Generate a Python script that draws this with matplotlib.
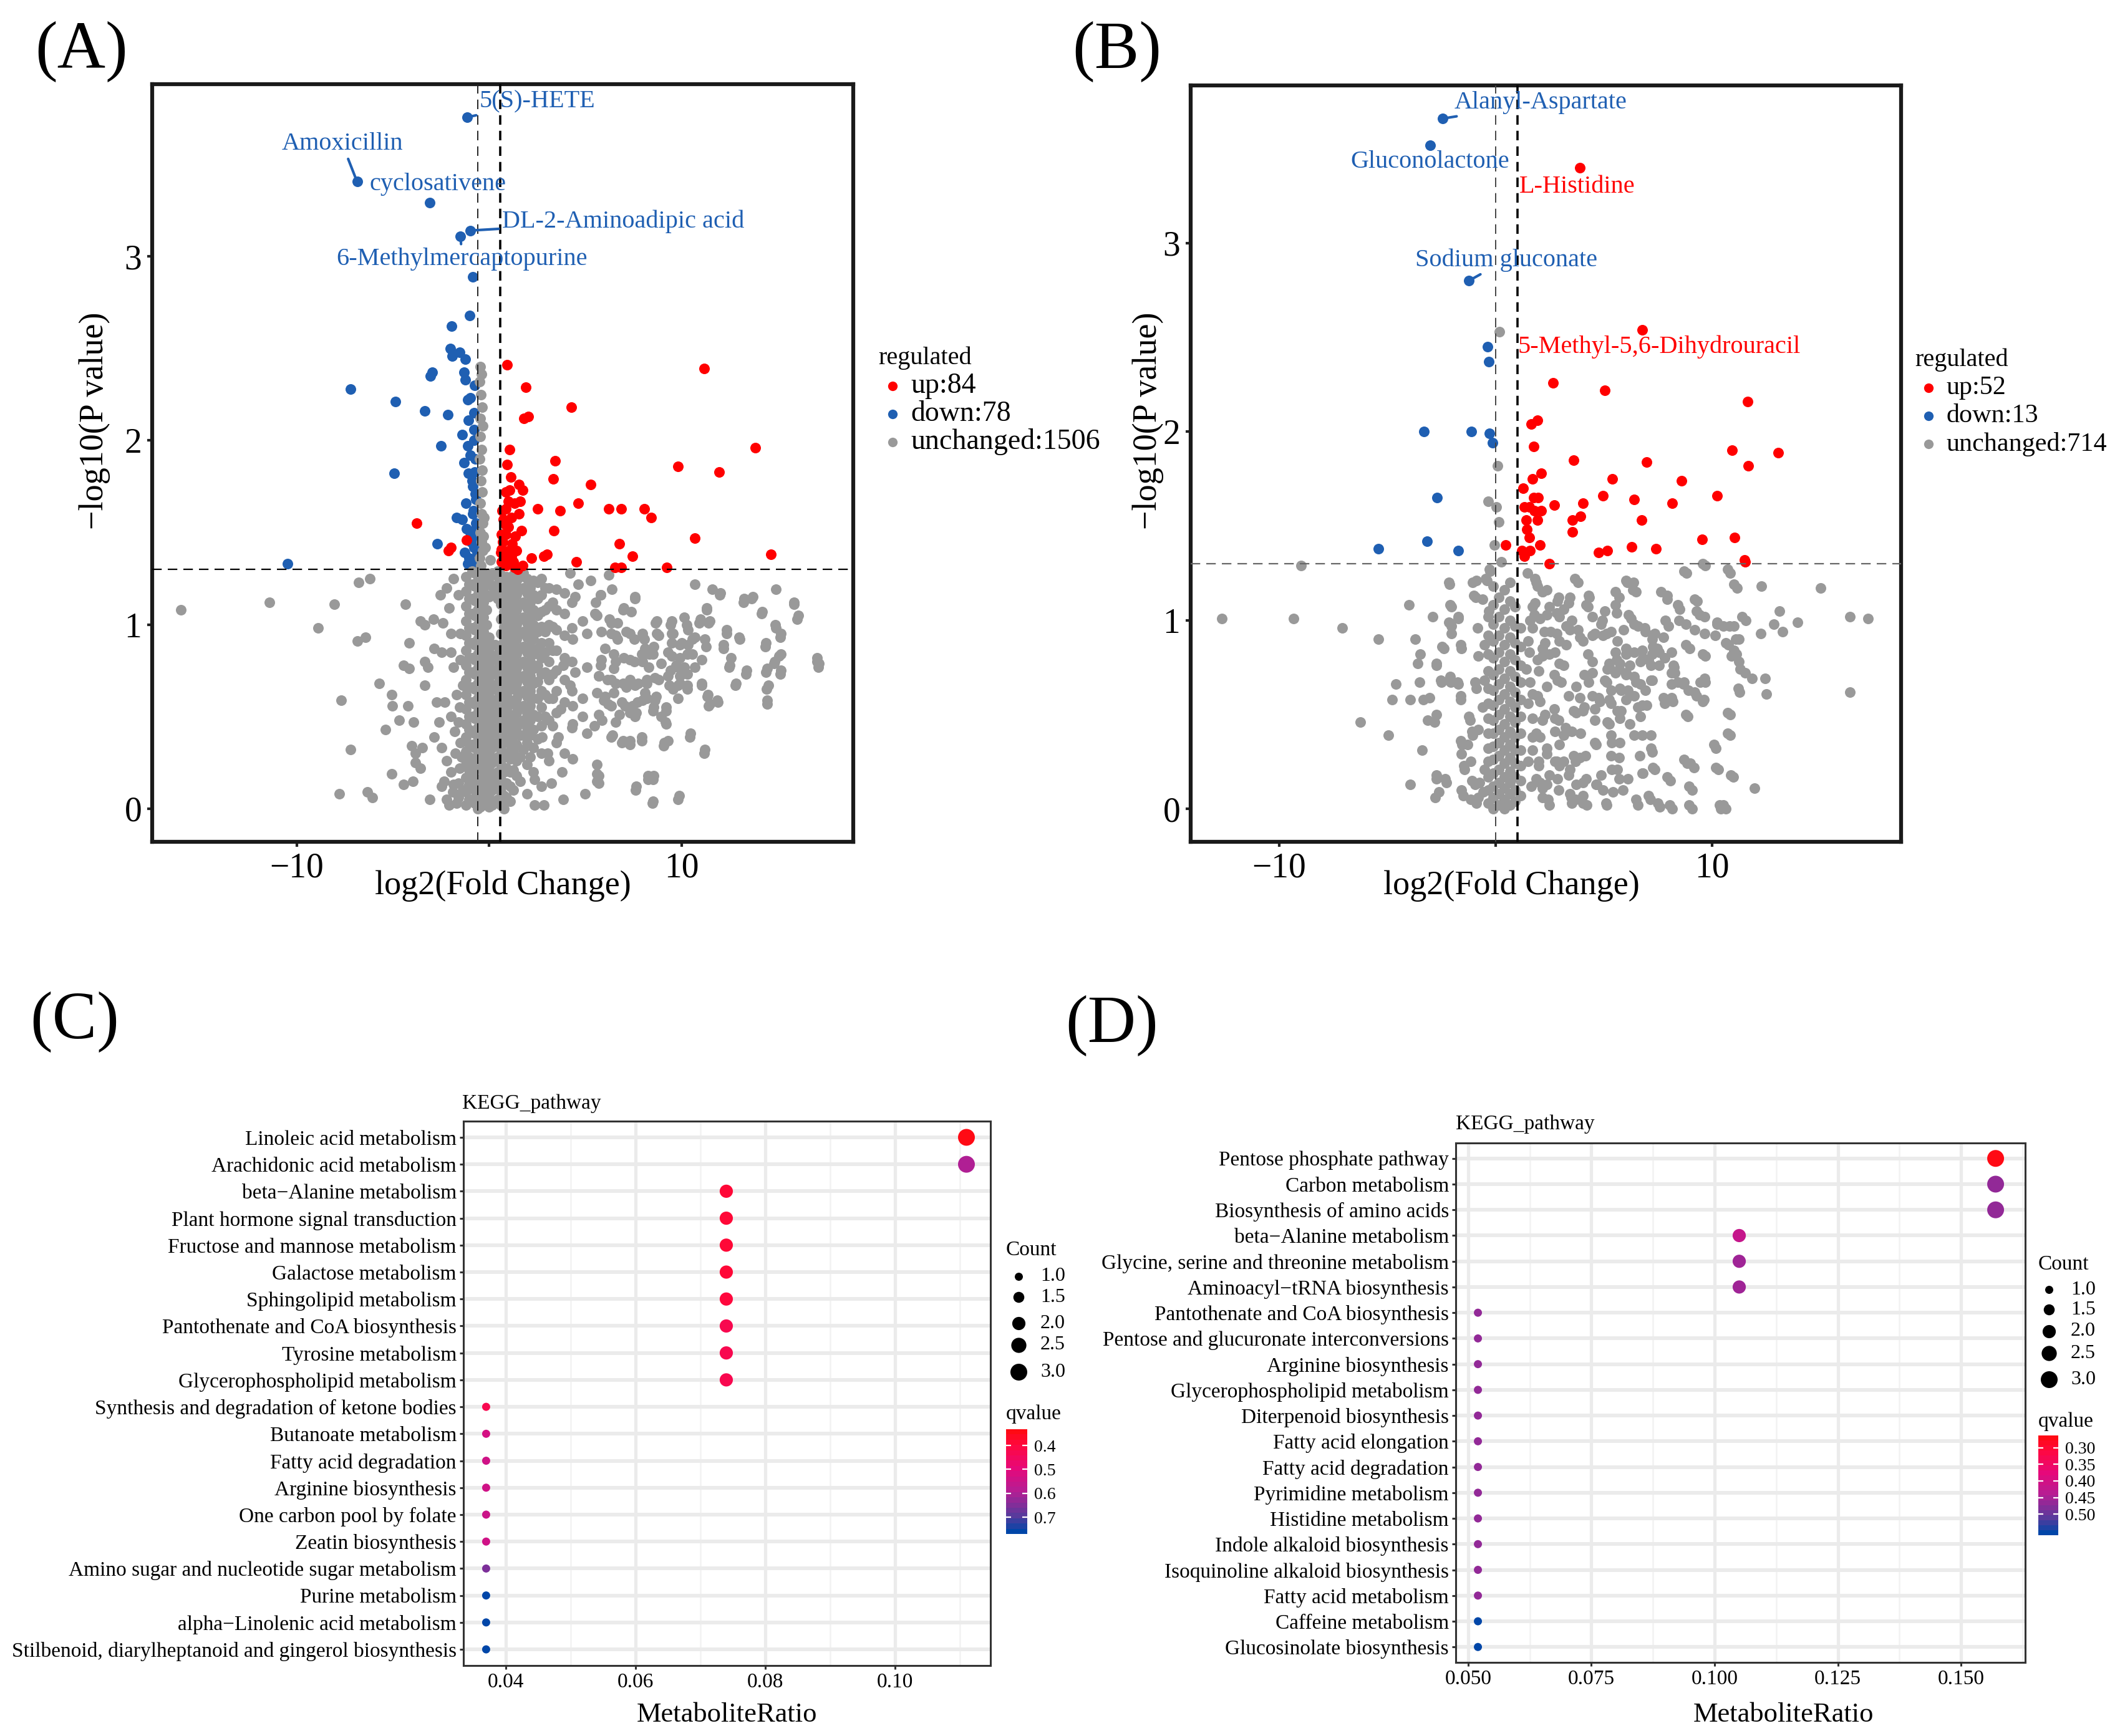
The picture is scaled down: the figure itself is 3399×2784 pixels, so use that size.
import numpy as np
import matplotlib
matplotlib.use('Agg')
import matplotlib.pyplot as plt
from matplotlib.lines import Line2D
from matplotlib.colors import LinearSegmentedColormap, Normalize
from matplotlib.cm import ScalarMappable
from matplotlib.ticker import FixedLocator

plt.rcParams['font.family'] = ['Liberation Serif', 'DejaVu Serif']
plt.rcParams['lines.scale_dashes'] = False

RED = '#FF0000'
BLUE = '#1F5FB2'
GREY = '#999999'

# ---------------- volcano (A) ----------------
blue_a = [(-1.16, 3.755), (-6.86, 3.405), (-3.1, 3.29), (-0.99, 3.14), (-1.49, 3.11),
          (-0.84, 2.89), (-1.02, 2.68), (-1.96, 2.62), (-2.03, 2.50), (-1.54, 2.48),
          (-1.91, 2.46), (-1.24, 2.44), (-1.31, 2.37), (-2.97, 2.37), (-3.05, 2.35),
          (-1.24, 2.33), (-7.19, 2.28), (-4.88, 2.21), (-3.35, 2.16), (-2.16, 2.14),
          (-0.97, 2.23), (-1.07, 2.11), (-0.79, 2.06), (-1.41, 2.03), (-2.50, 1.97),
          (-1.12, 1.97), (-1.31, 1.88), (-1.07, 1.82), (-4.93, 1.82), (-0.87, 1.75),
          (-0.74, 1.71), (-1.21, 1.66), (-0.82, 1.62), (-1.69, 1.58), (-1.41, 1.57),
          (-0.65, 1.53), (-0.97, 1.50), (-2.70, 1.44), (-1.29, 1.39), (-0.62, 1.39),
          (-1.12, 1.33), (-0.66, 1.34), (-10.48, 1.33), (-0.75, 2.30), (-0.80, 2.00),
          (-0.72, 1.90), (-0.90, 1.78), (-0.70, 1.68), (-0.95, 1.45), (-0.80, 1.42),
          (-1.05, 1.36), (-0.68, 1.55), (-0.85, 1.60), (-1.10, 2.22), (-0.78, 2.15),
          (-1.00, 1.92), (-0.70, 1.47), (-0.88, 1.31), (-1.18, 1.52), (-0.76, 1.83)]

red_a = [(0.94, 2.41), (11.15, 2.39), (1.91, 2.29), (4.26, 2.18), (1.81, 2.12),
         (2.03, 2.13), (1.07, 1.95), (13.8, 1.96), (0.92, 1.87), (3.42, 1.89),
         (9.81, 1.86), (11.95, 1.83), (3.32, 1.79), (5.28, 1.76), (1.54, 1.76),
         (0.87, 1.72), (1.07, 1.73), (1.73, 1.73), (1.61, 1.67), (4.63, 1.66),
         (0.99, 1.67), (2.50, 1.63), (3.67, 1.62), (6.20, 1.63), (6.84, 1.63),
         (8.05, 1.63), (8.40, 1.58), (0.87, 1.63), (1.16, 1.58), (0.87, 1.54),
         (1.68, 1.51), (3.35, 1.51), (10.66, 1.47), (0.62, 1.49), (0.87, 1.49),
         (1.36, 1.48), (6.77, 1.44), (14.62, 1.38), (0.60, 1.39), (0.62, 1.41),
         (1.02, 1.40), (2.18, 1.36), (2.85, 1.37), (3.00, 1.38), (7.43, 1.37),
         (4.53, 1.34), (9.22, 1.31), (6.52, 1.31), (6.84, 1.31), (0.62, 1.34),
         (0.87, 1.32), (1.24, 1.34), (1.49, 1.30), (1.73, 1.32), (1.16, 1.37),
         (1.41, 1.40), (0.74, 1.57), (0.99, 1.53), (1.31, 1.66), (1.12, 1.80),
         (1.54, 1.60), (-3.77, 1.55), (-1.19, 1.46), (-2.11, 1.40), (-1.98, 1.42),
         (0.70, 1.45), (1.20, 1.44), (0.95, 1.36), (1.30, 1.31), (0.68, 1.62)]

grey_a = [(-16.0, 1.08), (-11.4, 1.12), (-8.87, 0.98), (-8.05, 1.11), (-6.79, 1.23),
          (-6.2, 1.25), (-6.84, 0.91), (-6.44, 0.93), (-7.68, 0.59), (-5.7, 0.68),
          (-7.19, 0.32), (-7.78, 0.08), (-6.34, 0.09), (-6.07, 0.06), (-5.4, 0.43),
          (-5.08, 0.62), (-5.03, 0.56), (-4.34, 1.11), (-4.16, 0.90), (-4.44, 0.78),
          (-4.16, 0.76), (-5.08, 0.19), (-4.46, 0.13), (-4.66, 0.48), (-4.21, 0.56),
          (-3.59, 1.02), (-3.35, 1.00), (-3.35, 0.80), (-3.17, 0.77), (-3.35, 0.67),
          (-3.92, 0.47), (-4.04, 0.34), (-3.84, 0.30), (-3.47, 0.33), (-3.84, 0.25),
          (-3.59, 0.22), (-3.97, 0.15), (-3.1, 0.05), (-2.85, 0.39), (-2.6, 0.47),
          (-2.73, 0.58), (-2.85, 0.87), (-2.48, 0.85), (-2.9, 1.03), (-2.4, 1.01),
          (-2.53, 1.16), (-2.23, 1.20), (-1.86, 1.25), (-2.1, 1.09), (-1.98, 0.95),
          (-1.98, 0.85), (-1.86, 0.77), (-2.3, 0.58), (-1.98, 0.50), (-2.48, 0.33),
          (-2.23, 0.26), (-1.86, 0.13), (-2.48, 0.12), (-2.1, 0.02), (-1.61, 1.16),
          (-1.49, 0.36), (-1.61, 0.47), (-1.36, 0.67), (-1.49, 0.81), (-1.36, 0.10),
          (-1.61, 0.06), (-1.55, 0.22), (-1.75, 0.30), (-1.7, 0.62), (-1.5, 0.95),
          (-2.2, 0.05), (-1.9, 0.09), (-1.6, 0.14), (-2.0, 0.2), (-1.7, 0.03),
          (-1.45, 0.28), (-2.35, 0.15), (-1.8, 0.42), (-1.55, 0.55),
          # right cloud
          (4.21, 1.28), (4.63, 1.22), (5.28, 1.24), (6.2, 1.27), (6.37, 1.19),
          (4.46, 1.15), (5.77, 1.16), (7.56, 1.14), (6.94, 1.08), (10.66, 1.22),
          (11.57, 1.19), (11.97, 1.16), (13.2, 1.12), (13.63, 1.14), (14.87, 1.19),
          (15.81, 1.11), (15.98, 1.03), (14.13, 1.06), (11.28, 1.08), (8.62, 1.01),
          (9.42, 1.00), (10.24, 1.00), (10.9, 1.01), (11.4, 1.01), (14.87, 0.98),
          (15.12, 0.93), (12.32, 0.95), (13.01, 0.92), (14.33, 0.88), (15.05, 0.83),
          (14.8, 0.79), (15.12, 0.73), (14.38, 0.74), (13.34, 0.73), (12.77, 0.67),
          (12.47, 0.77), (12.15, 0.87), (17.03, 0.80), (17.1, 0.77), (14.4, 0.65),
          (14.43, 0.57), (11.87, 0.58), (11.33, 0.61), (11.03, 0.67), (11.4, 0.56),
          (10.41, 0.39), (11.15, 0.30), (9.79, 0.05), (9.05, 0.34), (8.5, 0.16),
          (8.23, 0.16), (8.48, 0.03), (7.61, 0.10), (9.17, 0.53), (9.17, 0.46),
          (8.5, 0.53), (7.93, 0.37), (7.31, 0.35), (6.94, 0.37), (6.32, 0.39),
          (5.7, 0.51), (5.45, 0.45), (5.08, 0.41), (4.96, 0.08), (5.58, 0.19),
          (5.70, 0.14), (4.34, 0.27), (3.77, 0.20), (3.22, 0.14), (3.84, 0.05),
          (2.85, 0.02), (2.35, 0.02), (2.35, 0.16), (3.02, 0.30), (2.73, 0.39),
          (3.59, 0.39), (4.34, 0.46), (3.72, 0.54), (4.34, 0.56), (4.83, 0.60),
          (5.95, 0.59), (6.32, 0.56), (7.06, 0.56), (7.68, 0.58), (8.18, 0.60),
          (8.67, 0.61), (9.54, 0.65), (9.91, 0.68), (10.29, 0.73), (10.66, 0.77),
          (9.79, 0.77), (9.29, 0.72), (8.8, 0.70), (8.18, 0.68), (7.56, 0.67),
          (6.94, 0.68), (6.32, 0.70), (5.7, 0.72), (5.08, 0.77), (4.46, 0.74),
          (3.84, 0.78), (5.82, 0.81), (6.57, 0.80), (7.31, 0.81), (7.93, 0.84),
          (8.55, 0.88), (9.29, 0.85), (9.91, 0.89), (10.53, 0.92), (9.54, 0.95),
          (8.8, 0.94), (8.05, 0.92), (7.31, 0.95), (6.57, 0.94), (5.82, 0.96),
          (5.08, 0.95), (4.34, 0.92), (4.83, 1.02), (5.58, 1.05), (6.32, 1.01),
          (8.3, 0.84), (10.29, 0.84), (11.03, 0.81), (10.29, 0.65), (6.57, 0.47),
          (4.83, 0.50), (4.21, 0.67), (7.56, 0.50), (9.29, 0.37),
          (5.80, 1.16), (7.58, 1.15), (5.53, 1.12), (6.99, 1.09), (7.37, 1.07),
          (5.48, 1.06), (6.23, 1.03), (6.66, 1.01), (8.71, 1.02), (9.47, 1.02),
          (10.12, 1.04), (10.98, 1.03), (11.46, 1.02), (11.30, 1.09), (12.0, 1.17),
          (13.24, 1.14), (13.68, 1.15), (15.83, 1.12), (16.05, 1.05), (14.16, 1.07),
          (14.86, 1.00), (15.13, 0.95), (12.33, 0.97), (12.98, 0.93), (12.17, 0.89),
          (14.38, 0.90), (15.13, 0.84), (14.81, 0.80), (14.43, 0.76), (15.13, 0.75),
          (14.49, 0.67), (14.43, 0.59), (17.02, 0.82), (17.13, 0.79), (13.35, 0.75),
          (12.81, 0.68), (12.54, 0.82), (12.49, 0.78), (11.03, 0.68), (11.36, 0.62),
          (11.84, 0.59), (11.46, 0.57), (10.44, 0.41), (11.19, 0.32), (9.09, 0.36),
          (7.91, 0.39), (7.31, 0.37), (6.88, 0.36), (6.39, 0.40), (9.79, 0.60),
          (8.55, 0.55), (9.20, 0.55), (8.93, 0.50), (9.15, 0.47), (7.64, 0.52),
          (6.77, 0.51), (6.88, 0.58), (7.42, 0.56), (5.86, 0.48), (6.18, 0.57),
          (7.64, 0.12), (8.23, 0.18), (8.55, 0.18), (8.50, 0.04), (9.85, 0.07),
          (5.59, 0.24), (5.69, 0.18), (5.59, 0.15), (9.36, 0.67), (9.79, 0.67),
          (10.28, 0.67), (9.42, 0.75), (9.90, 0.72), (10.12, 0.77), (9.69, 0.78),
          (9.47, 0.83), (9.90, 0.82), (10.55, 0.84), (10.33, 0.89), (10.66, 0.93),
          (11.19, 0.92), (11.25, 0.88), (10.01, 0.90), (10.33, 0.97), (9.47, 0.95),
          (9.47, 0.90), (8.71, 0.95), (8.93, 0.79), (8.07, 0.87), (8.50, 0.84),
          (7.96, 0.80), (7.96, 0.95), (7.53, 0.92), (7.10, 0.96), (6.66, 0.92),
          (6.34, 0.95), (6.02, 0.87), (6.45, 0.84), (6.99, 0.82), (7.53, 0.80),
          (8.28, 0.77), (8.61, 0.71), (8.18, 0.70), (7.74, 0.68), (7.31, 0.70),
          (7.10, 0.66), (6.56, 0.68), (6.13, 0.70), (5.69, 0.72), (5.80, 0.78),
          (6.45, 0.76), (8.07, 0.63), (8.61, 0.59), (5.59, 0.63), (6.02, 0.61),
          (6.45, 0.63), (7.96, 0.59), (7.31, 0.52),
          # grey column above the p cut-off
          (-0.45, 2.40), (-0.40, 2.36), (-0.50, 2.32), (-0.42, 2.25), (-0.38, 2.18),
          (-0.48, 2.12), (-0.35, 2.08), (-0.45, 2.02), (-0.40, 1.95), (-0.50, 1.90),
          (-0.38, 1.84), (-0.44, 1.78), (-0.36, 1.72), (-0.48, 1.66), (-0.40, 1.60),
          (-0.33, 1.55), (-0.46, 1.50), (-0.40, 1.45), (-0.35, 1.40), (-0.50, 1.36),
          (-0.42, 1.32), (-0.30, 1.48), (-0.28, 1.58), (0.05, 1.35), (-0.2, 1.42)]

# dense core, one list of -log10(p) per log2FC column
core_a_x = [-1.2, -0.9, -0.6, -0.3, 0.0, 0.3, 0.6, 0.9, 1.25, 1.6, 1.95, 2.3, 2.7,
            3.1, 3.5, 3.9, 4.3,
            -1.05, -0.75, -0.45, -0.15, 0.15, 0.45, 0.75, 1.08, 1.42, 1.78, 2.12, 2.5,
            2.9, 3.3]
core_a_y = [[0.02, 0.09, 0.17, 0.24, 0.31, 0.39, 0.46, 0.54, 0.62, 0.7, 0.78, 0.86, 0.94,
             1.02, 1.1, 1.18, 1.26],
            [0.05, 0.12, 0.2, 0.27, 0.35, 0.42, 0.5, 0.58, 0.66, 0.74, 0.82, 0.9, 0.98,
             1.06, 1.14, 1.22, 1.29],
            [0.0, 0.07, 0.14, 0.22, 0.29, 0.37, 0.44, 0.52, 0.6, 0.68, 0.76, 0.84, 0.92,
             1.0, 1.08, 1.16, 1.24],
            [0.03, 0.1, 0.18, 0.25, 0.33, 0.4, 0.48, 0.56, 0.64, 0.72, 0.8, 0.88, 0.96,
             1.04, 1.12, 1.2, 1.28],
            [0.01, 0.08, 0.15, 0.23, 0.3, 0.38, 0.46, 0.53, 0.61, 0.69, 0.77, 0.85, 0.93,
             1.15, 1.23],
            [0.04, 0.11, 0.19, 0.26, 0.34, 0.41, 0.49, 0.57, 0.65, 0.73, 0.81, 0.89, 1.18,
             1.27],
            [0.02, 0.09, 0.16, 0.24, 0.32, 0.4, 0.47, 0.55, 0.63, 0.71, 0.79, 0.87, 0.95,
             1.03, 1.11, 1.19, 1.27],
            [0.06, 0.14, 0.22, 0.3, 0.38, 0.46, 0.54, 0.62, 0.7, 0.78, 0.86, 0.94, 1.02,
             1.1, 1.18, 1.26],
            [0.1, 0.21, 0.31, 0.4, 0.48, 0.57, 0.65, 0.72, 0.8, 0.88, 0.96, 1.04, 1.12,
             1.2, 1.27],
            [0.15, 0.28, 0.4, 0.47, 0.55, 0.63, 0.71, 0.79, 0.87, 0.95, 1.03, 1.11, 1.19,
             1.26],
            [0.08, 0.24, 0.36, 0.44, 0.52, 0.61, 0.69, 0.77, 0.85, 0.93, 1.01, 1.09, 1.17,
             1.25],
            [0.2, 0.33, 0.43, 0.51, 0.6, 0.68, 0.76, 0.84, 0.92, 1.0, 1.08, 1.16, 1.24],
            [0.12, 0.3, 0.45, 0.55, 0.64, 0.73, 0.82, 0.9, 0.99, 1.07, 1.16, 1.25],
            [0.26, 0.48, 0.6, 0.7, 0.8, 0.9, 1.0, 1.1, 1.2],
            [0.36, 0.52, 0.64, 0.75, 0.86, 0.97, 1.08, 1.19],
            [0.3, 0.58, 0.7, 0.82, 0.94, 1.06, 1.17],
            [0.44, 0.64, 0.8, 0.98, 1.12],
            [0.05, 0.13, 0.21, 0.28, 0.35, 0.43, 0.5, 0.58, 0.66, 0.74, 0.82, 0.9, 0.98,
             1.06, 1.14, 1.22],
            [0.03, 0.1, 0.17, 0.25, 0.33, 0.41, 0.49, 0.57, 0.65, 0.73, 0.81, 0.89, 0.97,
             1.05, 1.13, 1.21, 1.28],
            [0.01, 0.08, 0.15, 0.22, 0.3, 0.38, 0.46, 0.54, 0.62, 0.7, 0.78, 0.86, 0.94,
             1.02, 1.1, 1.18, 1.26],
            [0.06, 0.13, 0.21, 0.28, 0.36, 0.44, 0.52, 0.6, 0.68, 0.76, 0.84, 0.92, 1.0,
             1.08, 1.16, 1.24],
            [0.02, 0.1, 0.17, 0.25, 0.33, 0.41, 0.49, 0.57, 0.65, 0.73, 0.81, 0.89, 1.21,
             1.28],
            [0.05, 0.13, 0.2, 0.28, 0.36, 0.44, 0.52, 0.6, 0.68, 0.76, 0.84, 1.14, 1.22,
             1.29],
            [0.0, 0.07, 0.13, 0.2, 0.28, 0.36, 0.43, 0.51, 0.59, 0.67, 0.75, 0.83, 0.91,
             0.99, 1.07, 1.15, 1.23],
            [0.04, 0.12, 0.2, 0.27, 0.35, 0.43, 0.51, 0.59, 0.67, 0.75, 0.83, 0.91, 0.99,
             1.07, 1.15, 1.23],
            [0.18, 0.26, 0.35, 0.44, 0.52, 0.6, 0.68, 0.76, 0.84, 0.92, 1.0, 1.08, 1.16,
             1.24],
            [0.32, 0.4, 0.48, 0.56, 0.64, 0.72, 0.8, 0.88, 0.96, 1.04, 1.12, 1.2, 1.28],
            [0.28, 0.4, 0.48, 0.56, 0.64, 0.72, 0.8, 0.88, 0.96, 1.04, 1.12, 1.2],
            [0.38, 0.5, 0.6, 0.69, 0.78, 0.87, 0.96, 1.05, 1.14, 1.23],
            [0.5, 0.62, 0.74, 0.85, 0.96, 1.08, 1.2],
            [0.45, 0.6, 0.73, 0.86, 0.99, 1.12]]

labels_a = ['5(S)-HETE', 'Amoxicillin', 'cyclosativene', 'DL-2-Aminoadipic acid',
            '6-Methylmercaptopurine']
labels_a_pt = [(-1.16, 3.755), (-6.86, 3.405), (-3.1, 3.29), (-0.99, 3.14), (-1.49, 3.11)]
labels_a_txt = [(-0.5, 3.84), (-10.78, 3.61), (-6.2, 3.39), (0.67, 3.19), (-7.93, 2.985)]
labels_a_col = [BLUE, BLUE, BLUE, BLUE, BLUE]
legend_a = ['up:84', 'down:78', 'unchanged:1506']

# ---------------- volcano (B) ----------------
blue_b = [(-2.46, 3.66), (-3.01, 3.52), (-1.24, 2.80), (-0.38, 2.45), (-0.31, 2.37),
          (-3.32, 2.00), (-1.13, 2.00), (-0.29, 1.99), (-0.13, 1.94), (-2.70, 1.65),
          (-5.40, 1.38), (-3.17, 1.42), (-1.73, 1.37)]

red_b = [(3.88, 3.40), (6.76, 2.54), (2.64, 2.26), (5.03, 2.22), (11.63, 2.16),
         (1.64, 2.04), (1.93, 2.06), (1.77, 1.92), (10.92, 1.90), (13.05, 1.89),
         (3.59, 1.85), (6.98, 1.84), (11.67, 1.82), (1.71, 1.75), (2.10, 1.78),
         (5.40, 1.75), (8.57, 1.74), (1.26, 1.70), (1.75, 1.65), (1.95, 1.65),
         (4.96, 1.66), (6.40, 1.64), (10.23, 1.66), (8.15, 1.62), (2.70, 1.61),
         (4.03, 1.62), (1.33, 1.60), (1.55, 1.60), (2.10, 1.58), (1.93, 1.53),
         (1.42, 1.53), (3.54, 1.53), (3.92, 1.55), (6.73, 1.53), (3.54, 1.47),
         (1.55, 1.44), (9.52, 1.43), (11.03, 1.44), (0.47, 1.40), (2.04, 1.40),
         (6.27, 1.39), (7.40, 1.38), (4.76, 1.36), (5.16, 1.37), (1.22, 1.37),
         (1.59, 1.37), (1.33, 1.34), (2.48, 1.30), (11.50, 1.32), (11.52, 1.31),
         (1.45, 1.48), (1.80, 1.58)]

grey_b = [(0.18, 2.53), (0.09, 1.82), (-0.35, 1.63), (0.04, 1.60), (0.16, 1.52),
          (-0.07, 1.40), (0.27, 1.31), (-8.97, 1.29),
          (-12.65, 1.01), (-9.32, 1.01), (-7.09, 0.96), (-5.40, 0.90), (-6.25, 0.46),
          (-4.94, 0.39), (-4.78, 0.58), (-4.61, 0.66), (-3.99, 1.08), (-3.70, 0.90),
          (-3.94, 0.58), (-3.48, 0.82), (-3.52, 0.67), (-3.61, 0.77), (-3.34, 0.58),
          (-3.06, 0.59), (-3.15, 0.47), (-2.83, 0.46), (-3.39, 0.31), (-3.94, 0.13),
          (-2.72, 0.16), (-2.28, 0.14), (-2.79, 0.06), (-2.90, 1.02), (-2.72, 0.76),
          (-2.50, 0.67), (-2.06, 0.67), (-1.73, 0.66), (-2.13, 1.19), (-2.04, 1.07),
          (-2.04, 0.97), (-1.73, 1.01), (-1.57, 0.85), (-2.39, 0.85), (-1.62, 0.58),
          (-1.55, 0.34), (-1.44, 0.21), (-1.51, 0.07), (-1.17, 0.47), (-1.06, 1.20),
          (-0.91, 1.12), (-0.84, 0.96), (-0.40, 1.21), (-0.27, 1.26), (-0.95, 0.13),
          (-0.89, 0.03), (-0.95, 0.67), (-1.06, 0.39),
          (-2.15, 1.20), (-2.10, 1.08), (-1.72, 1.02), (-2.15, 0.99), (-2.05, 0.93),
          (-1.62, 0.87), (-2.48, 0.86), (-2.72, 0.77), (-0.80, 0.81), (-2.53, 0.68),
          (-2.10, 0.70), (-1.76, 0.67), (-1.62, 0.60), (-0.61, 0.54), (-1.24, 0.49),
          (-2.72, 0.50), (-1.09, 0.41), (-0.80, 0.42), (-1.62, 0.36), (-1.28, 0.34),
          (-1.57, 0.29), (-1.14, 0.25), (-1.48, 0.23), (-0.52, 0.21), (-2.72, 0.18),
          (-2.34, 0.16), (-1.09, 0.15), (-0.76, 0.14), (-1.57, 0.10), (-1.14, 0.05),
          (-0.80, 0.06), (-0.56, 0.09), (-2.63, 0.09), (-0.90, 1.21), (-0.47, 1.22),
          (-1.00, 1.13), (-0.61, 1.11), (-0.28, 1.27), (-0.32, 1.05), (-0.52, 0.87),
          (-0.90, 0.64), (-0.52, 0.68),
          (8.82, 1.25), (9.68, 1.29), (10.83, 1.25), (11.14, 1.17), (12.27, 1.18),
          (15.0, 1.17), (9.3, 1.10), (8.5, 1.06), (9.41, 1.03), (10.23, 0.98),
          (10.79, 0.97), (11.56, 1.00), (12.23, 0.93), (12.85, 0.98), (13.11, 1.05),
          (13.24, 0.94), (13.95, 0.99), (16.35, 1.02), (17.19, 1.01), (16.35, 0.62),
          (11.23, 0.90), (10.74, 0.87), (9.68, 0.81), (8.95, 0.85), (11.12, 0.82),
          (11.23, 0.78), (11.52, 0.72), (11.85, 0.69), (12.45, 0.69), (12.5, 0.61),
          (11.27, 0.62), (9.68, 0.67), (9.61, 0.58), (9.28, 0.60), (8.86, 0.49),
          (10.83, 0.50), (10.83, 0.39), (10.18, 0.32), (10.27, 0.21), (10.96, 0.17),
          (11.96, 0.11), (10.41, 0.0), (10.63, 0.0), (9.06, 0.0), (9.06, 0.10),
          (8.84, 0.24), (9.17, 0.22), (8.15, 0.0), (7.57, 0.01), (8.06, 0.15),
          (7.13, 0.05), (6.58, 0.02), (7.35, 0.21), (6.80, 0.19), (6.64, 0.28),
          (7.24, 0.30), (7.80, 0.56), (8.17, 0.57), (8.13, 0.66), (8.28, 0.72),
          (8.68, 0.66), (8.9, 0.63), (7.80, 0.80), (7.97, 0.97), (8.46, 1.00),
          (7.91, 1.13), (7.75, 0.91), (8.24, 0.75), (6.36, 1.20), (6.09, 1.20),
          (6.47, 1.15), (5.69, 1.12), (5.58, 1.04), (6.25, 1.01), (6.58, 0.97),
          (6.91, 0.94), (7.24, 0.90), (7.46, 0.85), (7.24, 0.82), (6.80, 0.80),
          (6.02, 0.82), (5.58, 0.79), (5.69, 0.74), (6.02, 0.71), (6.47, 0.67),
          (6.91, 0.63), (7.24, 0.68), (5.80, 0.63), (6.02, 0.58), (6.58, 0.54),
          (5.80, 0.52), (5.25, 0.75), (5.14, 0.67), (5.25, 0.58), (5.25, 0.45),
          (4.65, 0.34), (5.36, 0.35), (5.69, 0.27), (5.36, 0.21), (4.87, 0.18),
          (5.69, 0.16), (5.14, 0.02), (4.21, 0.02), (3.70, 0.05), (4.03, 0.14),
          (4.65, 0.13), (4.47, 0.78), (4.25, 0.82), (4.03, 0.89), (4.58, 0.93),
          (3.81, 0.95), (4.25, 1.07), (3.81, 1.20), (4.32, 1.12), (4.92, 1.00),
          (5.14, 0.93), (4.81, 0.57), (4.58, 0.47), (4.03, 0.52), (3.59, 0.52),
          (3.92, 0.40), (4.14, 0.28), (3.37, 0.18), (3.70, 0.25), (3.48, 0.06),
          (2.92, 0.10), (2.48, 0.02), (2.15, 0.06), (2.04, 0.14), (2.48, 0.18),
          (2.81, 0.25), (3.15, 0.39), (2.92, 0.47), (2.70, 0.53), (3.37, 0.60),
          (3.03, 0.67), (2.70, 0.71), (3.15, 0.76), (3.26, 0.87), (2.81, 0.93),
          (3.26, 0.97), (2.81, 1.04), (3.37, 1.09), (2.92, 1.12), (2.48, 1.07),
          (2.15, 1.15), (1.82, 1.09), (1.93, 1.18), (2.04, 1.01), (1.59, 1.00),
          (2.26, 0.94), (2.15, 0.85), (1.93, 0.79), (2.48, 0.82), (2.37, 0.65),
          (2.04, 0.57), (1.71, 0.61), (2.15, 0.47), (2.04, 0.38), (2.37, 0.32),
          (1.99, 0.25), (1.64, 0.12), (1.71, 0.38), (1.48, 1.25), (1.82, 1.22),
          (1.88, 1.20), (2.36, 1.16), (2.17, 1.15), (1.69, 1.07), (1.79, 1.03),
          (2.36, 1.03), (2.84, 1.10), (3.13, 1.06), (2.94, 1.02), (2.55, 0.94),
          (2.27, 0.88), (2.94, 0.89), (2.17, 0.81), (2.75, 0.83), (2.94, 0.77),
          (1.98, 0.73), (2.84, 0.68), (1.69, 0.96), (1.50, 0.89), (1.55, 0.83),
          (1.40, 0.74), (1.59, 0.67), (1.93, 0.60), (1.50, 0.56), (1.69, 0.48),
          (2.27, 0.50), (2.75, 0.48), (1.88, 0.40), (2.75, 0.41), (1.69, 0.31),
          (2.36, 0.29), (2.94, 0.34), (1.50, 0.25), (1.98, 0.23), (2.94, 0.23),
          (1.88, 0.16), (2.17, 0.11), (2.41, 0.05), (2.84, 0.16), (2.36, 0.13),
          (3.66, 1.22), (3.42, 1.12), (4.28, 1.13), (4.19, 1.08), (3.51, 1.00),
          (3.42, 0.95), (3.90, 0.91), (4.47, 1.02), (5.05, 1.05), (4.86, 0.98),
          (5.34, 0.94), (4.95, 0.92), (4.47, 0.92), (6.01, 1.21), (5.53, 1.15),
          (6.35, 1.16), (5.53, 1.08), (6.15, 1.03), (5.91, 0.95), (6.39, 0.98),
          (6.87, 0.96), (7.35, 0.93), (7.83, 1.00), (7.64, 1.15), (7.93, 1.11),
          (8.41, 1.08), (8.70, 1.26), (9.18, 1.11), (9.56, 1.30), (10.71, 1.27),
          (11.0, 1.19), (11.38, 1.02), (9.27, 1.05), (9.66, 1.02), (8.79, 0.98),
          (9.18, 0.95), (9.66, 0.93), (10.23, 0.99), (10.52, 0.97), (11.0, 0.97),
          (10.14, 0.92), (10.62, 0.88), (11.1, 0.90), (11.0, 0.84), (10.9, 0.81),
          (11.29, 0.74), (9.56, 0.82), (8.79, 0.87), (8.12, 0.83), (8.22, 0.76),
          (8.12, 0.72), (8.70, 0.67), (8.41, 0.67), (9.66, 0.69), (9.46, 0.67),
          (9.18, 0.62), (9.56, 0.57), (11.19, 0.64), (7.74, 0.59), (8.12, 0.59),
          (8.79, 0.50), (10.71, 0.51), (10.71, 0.40), (10.09, 0.34), (8.70, 0.26),
          (8.99, 0.24), (10.18, 0.22), (10.86, 0.18), (8.94, 0.12), (7.93, 0.17),
          (8.94, 0.02), (8.03, 0.02), (7.50, 0.03), (7.06, 0.07), (6.49, 0.05),
          (10.33, 0.02), (10.52, 0.02),
          (5.63, 0.89), (6.01, 0.85), (5.53, 0.83), (6.39, 0.83), (6.78, 0.84),
          (7.26, 0.86), (7.55, 0.83), (7.06, 0.79), (6.68, 0.78), (6.20, 0.76),
          (5.72, 0.77), (5.24, 0.77), (5.15, 0.74), (5.53, 0.72), (6.01, 0.72),
          (6.39, 0.70), (6.68, 0.66), (7.16, 0.76), (7.16, 0.68), (7.55, 0.76),
          (5.05, 0.68), (5.34, 0.63), (5.72, 0.64), (6.11, 0.63), (6.39, 0.60),
          (6.78, 0.55), (6.97, 0.55), (5.34, 0.56), (5.63, 0.52), (5.72, 0.48),
          (5.15, 0.46), (6.20, 0.45), (6.68, 0.49), (5.34, 0.39), (5.72, 0.35),
          (6.39, 0.39), (6.78, 0.39), (7.16, 0.39), (7.16, 0.32), (5.34, 0.28),
          (5.63, 0.21), (6.11, 0.16), (6.78, 0.19), (7.26, 0.22),
          (3.71, 0.65), (4.09, 0.71), (4.47, 0.72), (4.28, 0.67), (3.90, 0.59),
          (4.47, 0.60), (4.76, 0.59), (3.71, 0.51), (4.09, 0.54), (4.57, 0.53),
          (3.23, 0.43), (3.51, 0.41), (4.57, 0.35), (2.75, 0.25), (3.13, 0.25),
          (3.61, 0.28), (3.90, 0.27), (3.42, 0.21), (3.71, 0.13), (4.19, 0.16),
          (4.67, 0.13), (4.95, 0.10), (5.43, 0.09), (5.87, 0.10), (3.42, 0.08),
          (3.51, 0.03), (4.04, 0.03), (4.04, 0.07), (5.09, 0.03)]

core_b_x = [-0.35, -0.1, 0.15, 0.4, 0.65, 0.9, 1.15]
core_b_y = [[0.03, 0.1, 0.17, 0.25, 0.32, 0.4, 0.48, 0.56, 0.64, 0.73, 0.82, 0.92, 1.02],
            [0.0, 0.06, 0.12, 0.19, 0.26, 0.33, 0.4, 0.47, 0.55, 0.63, 0.71, 0.8, 0.89,
             0.98, 1.08, 1.18],
            [0.02, 0.08, 0.14, 0.21, 0.28, 0.35, 0.42, 0.5, 0.58, 0.66, 0.74, 0.83, 0.92,
             1.02, 1.12],
            [0.0, 0.05, 0.11, 0.17, 0.24, 0.31, 0.38, 0.45, 0.53, 0.61, 0.69, 0.78, 0.87,
             0.96, 1.06, 1.16],
            [0.02, 0.08, 0.14, 0.2, 0.27, 0.34, 0.41, 0.49, 0.57, 0.65, 0.73, 0.82, 0.91,
             1.0, 1.1, 1.2],
            [0.04, 0.1, 0.17, 0.24, 0.31, 0.38, 0.46, 0.54, 0.62, 0.7, 0.79, 0.88, 0.97,
             1.07],
            [0.07, 0.15, 0.23, 0.31, 0.4, 0.49, 0.58, 0.67, 0.76, 0.86, 0.96]]

labels_b = ['Alanyl-Aspartate', 'Gluconolactone', 'L-Histidine', 'Sodium gluconate',
            '5-Methyl-5,6-Dihydrouracil']
labels_b_pt = [(-2.46, 3.66), (-3.01, 3.52), (3.88, 3.40), (-1.24, 2.80), (6.76, 2.54)]
labels_b_txt = [(-1.9, 3.744), (-6.71, 3.43), (1.09, 3.30), (-3.72, 2.91), (1.04, 2.45)]
labels_b_col = [BLUE, BLUE, RED, BLUE, RED]
legend_b = ['up:52', 'down:13', 'unchanged:714']

# ---------------- KEGG (C) ----------------
path_c = ['Linoleic acid metabolism', 'Arachidonic acid metabolism',
          'beta\u2212Alanine metabolism', 'Plant hormone signal transduction',
          'Fructose and mannose metabolism', 'Galactose metabolism',
          'Sphingolipid metabolism', 'Pantothenate and CoA biosynthesis',
          'Tyrosine metabolism', 'Glycerophospholipid metabolism',
          'Synthesis and degradation of ketone bodies', 'Butanoate metabolism',
          'Fatty acid degradation', 'Arginine biosynthesis', 'One carbon pool by folate',
          'Zeatin biosynthesis', 'Amino sugar and nucleotide sugar metabolism',
          'Purine metabolism', 'alpha\u2212Linolenic acid metabolism',
          'Stilbenoid, diarylheptanoid and gingerol biosynthesis']
ratio_c = [0.111, 0.111, 0.074, 0.074, 0.074, 0.074, 0.074, 0.074, 0.074, 0.074,
           0.037, 0.037, 0.037, 0.037, 0.037, 0.037, 0.037, 0.037, 0.037, 0.037]
count_c = [3, 3, 2, 2, 2, 2, 2, 2, 2, 2, 1, 1, 1, 1, 1, 1, 1, 1, 1, 1]
q_c = [0.332, 0.60, 0.38, 0.38, 0.38, 0.38, 0.39, 0.42, 0.42, 0.42,
       0.42, 0.53, 0.54, 0.54, 0.55, 0.54, 0.66, 0.77, 0.77, 0.77]
qlim_c = (0.332, 0.77)
qticks_c = [0.4, 0.5, 0.6, 0.7]

# ---------------- KEGG (D) ----------------
path_d = ['Pentose phosphate pathway', 'Carbon metabolism', 'Biosynthesis of amino acids',
          'beta\u2212Alanine metabolism', 'Glycine, serine and threonine metabolism',
          'Aminoacyl\u2212tRNA biosynthesis', 'Pantothenate and CoA biosynthesis',
          'Pentose and glucuronate interconversions', 'Arginine biosynthesis',
          'Glycerophospholipid metabolism', 'Diterpenoid biosynthesis',
          'Fatty acid elongation', 'Fatty acid degradation', 'Pyrimidine metabolism',
          'Histidine metabolism', 'Indole alkaloid biosynthesis',
          'Isoquinoline alkaloid biosynthesis', 'Fatty acid metabolism',
          'Caffeine metabolism', 'Glucosinolate biosynthesis']
ratio_d = [0.157, 0.157, 0.157, 0.105, 0.105, 0.105] + [0.052] * 14
count_d = [3, 3, 3, 2, 2, 2] + [1] * 14
q_d = [0.2625, 0.47, 0.47, 0.42, 0.46, 0.46, 0.47, 0.47, 0.47, 0.47,
       0.47, 0.47, 0.47, 0.47, 0.47, 0.47, 0.47, 0.47, 0.564, 0.564]
qlim_d = (0.2625, 0.564)
qticks_d = [0.30, 0.35, 0.40, 0.45, 0.50]
count_legend = [1.0, 1.5, 2.0, 2.5, 3.0]

# ------------------------------------------------------------
W, H = 3399, 2784
fig = plt.figure(figsize=(W / 100, H / 100), dpi=100)


def box(l, t, r, b):
    return fig.add_axes([l / W, 1 - b / H, (r - l) / W, (b - t) / H])


def ftext(x, y, s, **kw):
    return fig.text(x / W, 1 - y / H, s, **kw)


def fdot(x, y, ms, color):
    fig.add_artist(Line2D([x / W], [1 - y / H], transform=fig.transFigure, marker='o',
                          ms=ms, color=color, mew=0, ls=''))


def core_points(cx, cy):
    xs, ys = [], []
    for x, col in zip(cx, cy):
        xs += [x] * len(col)
        ys += col
    return xs, ys


def volcano(ax, grey, core_x, core_y, blue, red, xlim, ylim, vl, hl_col, labels, lpt, ltxt, lcol):
    bx, by = zip(*blue)
    rx, ry = zip(*red)
    gx, gy = zip(*grey)
    cx, cy = core_points(core_x, core_y)
    s = 150
    ax.scatter(bx, by, s=s, c=BLUE, lw=0, zorder=2)
    ax.scatter(cx + list(gx), cy + list(gy), s=s, c=GREY, lw=0, zorder=3)
    ax.scatter(rx, ry, s=s, c=RED, lw=0, zorder=4)
    for xv, lw, col in vl:
        ax.axvline(xv, color=col, lw=lw, dashes=(11, 7), zorder=5)
    ax.axhline(-np.log10(0.05), color=hl_col, lw=1.6, dashes=(11, 7), zorder=5)
    for name, (px, py), (tx, ty), col in zip(labels, lpt, ltxt, lcol):
        ax.annotate(name, xy=(px, py), xytext=(tx, ty), color=col, fontsize=29,
                    ha='left', va='center', zorder=6,
                    arrowprops=dict(arrowstyle='-', color=col, lw=3, shrinkA=2, shrinkB=0))
    ax.set_xlim(*xlim)
    ax.set_ylim(*ylim)
    ax.set_xticks([-10, 0, 10])
    ax.set_xticklabels(['\u221210', '', '10'])
    ax.set_yticks([0, 1, 2, 3])
    ax.tick_params(length=6, width=3, labelsize=40, pad=6, color='#222222')
    for sp in ax.spines.values():
        sp.set_linewidth(4.5)
        sp.set_color('#1a1a1a')


def vlegend(x0, y0, names, size, dx_dot, dx_txt):
    ftext(x0, y0, 'regulated', fontsize=29, ha='left', va='center')
    for i, (name, col) in enumerate(zip(names, [RED, BLUE, GREY])):
        y = y0 + 45 + i * 45
        fdot(x0 + dx_dot, y, 11, col)
        ftext(x0 + dx_txt, y, name, fontsize=size, ha='left', va='center')


ax_a = box(244, 135, 1368, 1350)
volcano(ax_a, grey_a, core_a_x, core_a_y, blue_a, red_a, (-17.5, 18.9), (-0.18, 3.935),
        [(-0.58, 1.4, '#222222'), (0.58, 2.6, 'black')], 'black',
        labels_a, labels_a_pt, labels_a_txt, labels_a_col)
ax_b = box(1909, 137, 3048, 1350)
volcano(ax_b, grey_b, core_b_x, core_b_y, blue_b, red_b, (-14.08, 18.72), (-0.175, 3.836),
        [(0.0, 1.4, '#444444'), (1.0, 2.6, 'black')], '#666666',
        labels_b, labels_b_pt, labels_b_txt, labels_b_col)

ftext(806, 1421, 'log2(Fold Change)', fontsize=39, ha='center', va='center')
ftext(2423, 1421, 'log2(Fold Change)', fontsize=39, ha='center', va='center')
ftext(152, 675, '\u2212log10(P value)', fontsize=39, ha='center', va='center', rotation=90)
ftext(1841, 675, '\u2212log10(P value)', fontsize=39, ha='center', va='center', rotation=90)
vlegend(1408, 574, legend_a, 33, 23, 52)
vlegend(3070, 577, legend_b, 30.3, 22, 50)

# ---- KEGG panels ----
qcmap = LinearSegmentedColormap.from_list(
    'qv', [(0, '#FF0A14'), (0.14, '#FF0840'), (0.37, '#E6087A'), (0.6, '#B41E94'),
           (0.84, '#5A3A9C'), (1.0, '#0046A8')])


def size_of(c):
    d = np.sqrt(169 + (np.asarray(c, float) - 1) * 280) / 1.389
    return d


def kegg(ax, paths, ratio, count, q, qlim, xlim, xt, xtl, xminor):
    n = len(paths)
    ypos = np.arange(n, 0, -1)
    norm = Normalize(*qlim)
    ax.scatter(ratio, ypos, s=size_of(count) ** 2, c=q, cmap=qcmap, norm=norm, lw=0, zorder=3)
    ax.set_xlim(*xlim)
    ax.set_ylim(0.4, n + 0.6)
    ax.set_yticks(ypos)
    ax.set_yticklabels(paths)
    ax.set_xticks(xt)
    ax.set_xticklabels(xtl)
    ax.xaxis.set_minor_locator(FixedLocator(xminor))
    ax.set_axisbelow(True)
    ax.grid(axis='y', which='major', color='#EBEBEB', lw=4.3)
    ax.grid(axis='x', which='major', color='#EBEBEB', lw=3.8)
    ax.grid(axis='x', which='minor', color='#F2F2F2', lw=1.8)
    ax.tick_params(which='major', length=4, width=2.2, color='#333333', labelsize=24, pad=4)
    ax.tick_params(which='minor', length=0)
    for sp in ax.spines.values():
        sp.set_linewidth(2.2)
        sp.set_color('#333333')
    return norm


def klegend(x0, ty, dot_x, dot_y, lab_x, q_ty, bar, norm, qticks, fmt):
    ftext(x0, ty, 'Count', fontsize=24, ha='left', va='center')
    for c, y in zip(count_legend, dot_y):
        fdot(dot_x, y, size_of(c), 'black')
        ftext(lab_x, y, f'{c:.1f}', fontsize=23, ha='left', va='center')
    ftext(x0, q_ty, 'qvalue', fontsize=24, ha='left', va='center')
    cax = box(*bar)
    cb = fig.colorbar(ScalarMappable(norm=norm, cmap=qcmap.resampled(20)), cax=cax)
    cb.outline.set_visible(False)
    cax.invert_yaxis()
    cb.set_ticks(qticks)
    cb.set_ticklabels([fmt.format(v) for v in qticks])
    cax.yaxis.set_ticks_position('both')
    cax.tick_params(axis='y', direction='in', length=6, width=1.6, color='white',
                    labelcolor='black', labelsize=20, pad=8, labelleft=False, labelright=True)


ax_c = box(743, 1798, 1588, 2671)
norm_c = kegg(ax_c, path_c, ratio_c, count_c, q_c, qlim_c, (0.0335, 0.1147),
              [0.04, 0.06, 0.08, 0.10], ['0.04', '0.06', '0.08', '0.10'], [0.05, 0.07, 0.09, 0.11])
ax_d = box(2334, 1833, 3247, 2666)
norm_d = kegg(ax_d, path_d, ratio_d, count_d, q_d, qlim_d, (0.0475, 0.163),
              [0.05, 0.075, 0.1, 0.125, 0.15], ['0.050', '0.075', '0.100', '0.125', '0.150'],
              [0.0625, 0.0875, 0.1125, 0.1375, 0.1625])

ftext(741, 1770, 'KEGG_pathway', fontsize=24, ha='left', va='center')
ftext(2334, 1803, 'KEGG_pathway', fontsize=24, ha='left', va='center')
ftext(1166, 2750, 'MetaboliteRatio', fontsize=32, ha='center', va='center')
ftext(2860, 2750, 'MetaboliteRatio', fontsize=32, ha='center', va='center')

klegend(1613, 2005, 1633, [2047, 2080, 2122, 2157, 2200], 1668, 2268,
        (1613, 2292, 1647, 2460), norm_c, qticks_c, '{:.1f}')
klegend(3268, 2028, 3285, [2068, 2100, 2135, 2170, 2212], 3320, 2280,
        (3268, 2302, 3300, 2462), norm_d, qticks_d, '{:.2f}')

# panel letters
for lab, x, y in [('(A)', 131, 83), ('(B)', 1791, 83), ('(C)', 120, 1639), ('(D)', 1783, 1645)]:
    ftext(x, y, lab, fontsize=77, ha='center', va='center')

fig.savefig('out.png', dpi=100)
